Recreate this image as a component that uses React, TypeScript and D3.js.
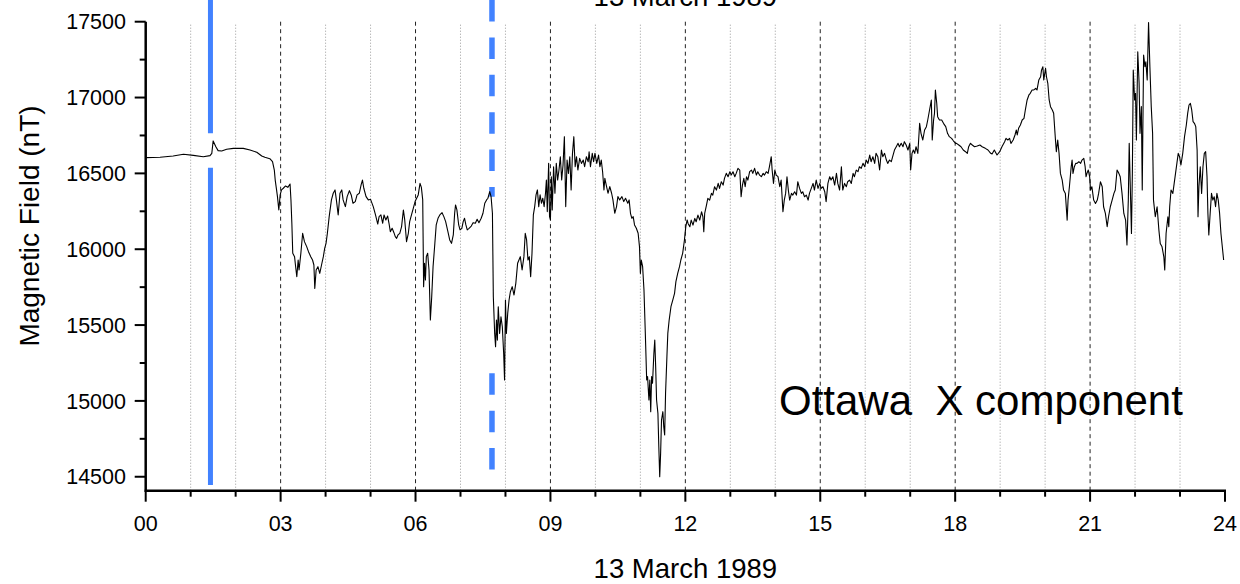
import React from "react";
import * as d3 from "d3";

// ---- data (hour of day, nT) ----
const SERIES_00_06: [number, number][] = [
  [0.0, 16604], [0.32, 16606], [0.61, 16615], [0.84, 16626], [1.06, 16619], [1.28, 16610], [1.43, 16617],
  [1.47, 16632], [1.5, 16714], [1.56, 16676], [1.61, 16650], [1.69, 16648], [1.8, 16659], [1.95, 16665],
  [2.17, 16665], [2.32, 16654], [2.47, 16639], [2.58, 16615], [2.65, 16606], [2.76, 16597], [2.82, 16577],
  [2.86, 16522], [2.88, 16456], [2.91, 16391], [2.93, 16347], [2.96, 16259], [2.99, 16358], [3.02, 16391],
  [3.06, 16402], [3.11, 16417], [3.16, 16408], [3.21, 16430], [3.23, 16325], [3.25, 16171], [3.27, 15973],
  [3.31, 15951], [3.33, 15896], [3.36, 15819], [3.39, 15929], [3.41, 15863], [3.45, 15973], [3.49, 16105],
  [3.53, 16050], [3.58, 16017], [3.62, 15984], [3.67, 15951], [3.71, 15929], [3.74, 15896], [3.76, 15742],
  [3.79, 15863], [3.83, 15885], [3.87, 15841], [3.91, 15896], [3.95, 15951], [3.98, 16006], [4.01, 16039],
  [4.04, 16105], [4.08, 16215], [4.13, 16325], [4.17, 16369], [4.21, 16391], [4.24, 16325], [4.28, 16226],
  [4.32, 16369], [4.36, 16391], [4.39, 16325], [4.44, 16281], [4.48, 16347], [4.53, 16386], [4.57, 16358],
  [4.61, 16303], [4.66, 16314], [4.7, 16358], [4.75, 16369], [4.79, 16424], [4.82, 16456], [4.85, 16402],
  [4.9, 16347], [4.95, 16325], [5.0, 16329], [5.06, 16281], [5.11, 16226], [5.16, 16166], [5.19, 16215],
  [5.23, 16226], [5.27, 16171], [5.3, 16226], [5.34, 16193], [5.38, 16219], [5.41, 16171], [5.44, 16116],
  [5.48, 16138], [5.52, 16109], [5.55, 16083], [5.58, 16072], [5.61, 16094], [5.65, 16105], [5.69, 16149],
  [5.73, 16259], [5.76, 16193], [5.8, 16050], [5.84, 16105], [5.87, 16182], [5.91, 16226], [5.95, 16270],
  [5.99, 16314],
];

const SERIES_06_12: [number, number][] = [
  [6.06, 16358], [6.1, 16434], [6.13, 16408], [6.16, 16325], [6.18, 15753], [6.2, 15907], [6.22, 15797],
  [6.24, 15951], [6.27, 15973], [6.3, 15863], [6.33, 15533], [6.36, 15687], [6.39, 15885], [6.43, 16039],
  [6.46, 16160], [6.5, 16204], [6.54, 16226], [6.59, 16241], [6.63, 16215], [6.67, 16182], [6.72, 16116],
  [6.76, 16061], [6.8, 16039], [6.84, 16094], [6.87, 16237], [6.89, 16292], [6.92, 16259], [6.96, 16160],
  [6.99, 16127], [7.03, 16138], [7.06, 16182], [7.09, 16204], [7.12, 16160], [7.15, 16127], [7.19, 16138],
  [7.24, 16153], [7.28, 16175], [7.33, 16171], [7.37, 16197], [7.41, 16175], [7.46, 16204], [7.5, 16237],
  [7.54, 16303], [7.58, 16325], [7.61, 16336], [7.65, 16380], [7.68, 16347], [7.71, 16237], [7.73, 15687],
  [7.76, 15445], [7.78, 15357], [7.8, 15533], [7.82, 15401], [7.84, 15621], [7.87, 15445], [7.9, 15555],
  [7.93, 15489], [7.96, 15313], [7.98, 15138], [8.0, 15665], [8.02, 15445], [8.05, 15577], [8.08, 15665],
  [8.11, 15720], [8.15, 15753], [8.19, 15698], [8.23, 15775], [8.27, 15907], [8.3, 15929], [8.33, 15951],
  [8.37, 15863], [8.41, 15951], [8.44, 16105], [8.47, 16061], [8.5, 15929], [8.53, 15951], [8.56, 15819],
  [8.59, 15973], [8.62, 16226], [8.65, 16281], [8.68, 16358], [8.71, 16391], [8.74, 16281], [8.77, 16358],
  [8.8, 16303], [8.83, 16336], [8.86, 16281], [8.89, 16369], [8.91, 16456], [8.93, 16248], [8.96, 16566],
  [8.98, 16215], [9.0, 16193], [9.02, 16478], [9.04, 16259], [9.07, 16544], [9.1, 16369], [9.13, 16566],
  [9.16, 16456], [9.19, 16522], [9.22, 16610], [9.25, 16456], [9.28, 16555], [9.31, 16742], [9.34, 16281],
  [9.37, 16588], [9.4, 16500], [9.43, 16610], [9.46, 16391], [9.49, 16632], [9.52, 16742], [9.55, 16544],
  [9.58, 16610], [9.61, 16522], [9.65, 16599], [9.69, 16566], [9.73, 16588], [9.76, 16544], [9.8, 16610],
  [9.84, 16577], [9.86, 16643], [9.89, 16544], [9.93, 16632], [9.96, 16577], [9.99, 16632], [10.03, 16566],
  [10.07, 16621], [10.1, 16544], [10.13, 16588], [10.16, 16511], [10.19, 16391], [10.21, 16467], [10.24, 16424],
  [10.28, 16369], [10.32, 16413], [10.36, 16369], [10.39, 16325], [10.43, 16237], [10.47, 16281], [10.5, 16347],
  [10.54, 16325], [10.59, 16347], [10.63, 16314], [10.67, 16336], [10.72, 16303], [10.75, 16325], [10.78, 16237],
  [10.81, 16204], [10.84, 16215], [10.87, 16160], [10.91, 16138], [10.95, 16105], [10.98, 16017], [11.0, 15841],
  [11.02, 15929], [11.05, 15885], [11.08, 15731], [11.11, 15445], [11.14, 15138], [11.16, 15160], [11.19, 15006],
  [11.21, 15138], [11.23, 14929], [11.25, 15160], [11.27, 15116], [11.3, 15313], [11.32, 15401], [11.34, 15226],
  [11.36, 15006], [11.39, 14918], [11.41, 14698], [11.43, 14500], [11.45, 14654], [11.47, 14874], [11.5, 14929],
  [11.52, 14830], [11.54, 14775], [11.56, 15050], [11.59, 15292], [11.61, 15445], [11.64, 15533], [11.68, 15621],
  [11.72, 15665], [11.76, 15709], [11.79, 15786], [11.83, 15841], [11.87, 15885], [11.9, 15929], [11.94, 15973],
  [11.98, 16061], [12.01, 16149], [12.04, 16193],
];

const SERIES_12_18: [number, number][] = [
  [12.06, 16170], [12.1, 16148], [12.13, 16192], [12.17, 16159], [12.21, 16203], [12.24, 16181], [12.28, 16225],
  [12.32, 16192], [12.36, 16247], [12.39, 16214], [12.41, 16115], [12.43, 16236], [12.47, 16291], [12.5, 16335],
  [12.54, 16324], [12.58, 16368], [12.61, 16357], [12.65, 16412], [12.69, 16390], [12.73, 16434], [12.76, 16401],
  [12.8, 16445], [12.84, 16423], [12.87, 16467], [12.91, 16500], [12.95, 16478], [12.99, 16511], [13.02, 16489],
  [13.06, 16511], [13.1, 16478], [13.13, 16500], [13.17, 16533], [13.21, 16522], [13.24, 16346], [13.27, 16423],
  [13.3, 16467], [13.33, 16412], [13.36, 16478], [13.39, 16456], [13.43, 16511], [13.47, 16522], [13.5, 16500],
  [13.54, 16533], [13.58, 16489], [13.61, 16511], [13.65, 16489], [13.69, 16478], [13.73, 16500], [13.76, 16489],
  [13.8, 16511], [13.84, 16500], [13.87, 16544], [13.91, 16610], [13.93, 16522], [13.96, 16434], [13.99, 16522],
  [14.02, 16489], [14.06, 16478], [14.1, 16412], [14.13, 16456], [14.17, 16247], [14.2, 16324], [14.23, 16368],
  [14.26, 16478], [14.29, 16390], [14.32, 16324], [14.36, 16368], [14.39, 16357], [14.43, 16379], [14.47, 16357],
  [14.5, 16445], [14.54, 16401], [14.58, 16368], [14.61, 16379], [14.65, 16346], [14.69, 16357], [14.73, 16324],
  [14.76, 16368], [14.8, 16401], [14.84, 16434], [14.87, 16390], [14.91, 16456], [14.95, 16401], [14.99, 16434],
  [15.02, 16401], [15.06, 16412], [15.1, 16379], [15.13, 16313], [15.17, 16434], [15.21, 16478], [15.24, 16456],
  [15.28, 16478], [15.32, 16423], [15.36, 16500], [15.39, 16434], [15.43, 16390], [15.47, 16544], [15.5, 16390],
  [15.54, 16434], [15.58, 16412], [15.61, 16445], [15.65, 16456], [15.69, 16434], [15.73, 16500], [15.76, 16478],
  [15.8, 16522], [15.84, 16511], [15.87, 16544], [15.91, 16533], [15.95, 16566], [15.99, 16544], [16.02, 16588],
  [16.06, 16566], [16.1, 16621], [16.13, 16577], [16.17, 16610], [16.21, 16566], [16.24, 16632], [16.28, 16610],
  [16.32, 16522], [16.36, 16654], [16.39, 16610], [16.43, 16632], [16.47, 16588], [16.5, 16566], [16.54, 16588],
  [16.58, 16577], [16.61, 16610], [16.65, 16654], [16.69, 16676], [16.73, 16698], [16.76, 16676], [16.8, 16698],
  [16.84, 16676], [16.87, 16709], [16.91, 16687], [16.95, 16654], [16.99, 16698], [17.01, 16522], [17.04, 16632],
  [17.07, 16654], [17.1, 16632], [17.13, 16676], [17.17, 16632], [17.21, 16830], [17.24, 16764], [17.28, 16720],
  [17.32, 16786], [17.36, 16808], [17.39, 16852], [17.43, 16918], [17.47, 16983], [17.49, 16720], [17.52, 16852],
  [17.54, 16896], [17.56, 17049], [17.59, 16962], [17.61, 16874], [17.65, 16852], [17.7, 16852], [17.74, 16830],
  [17.79, 16808], [17.83, 16764], [17.87, 16742], [17.92, 16731], [17.96, 16715], [18.01, 16698],
];

const SERIES_18_24: [number, number][] = [
  [18.03, 16698], [18.08, 16687], [18.13, 16676], [18.18, 16654], [18.23, 16643], [18.27, 16632], [18.3, 16676],
  [18.34, 16698], [18.38, 16687], [18.43, 16676], [18.49, 16680], [18.55, 16687], [18.6, 16676], [18.67, 16665],
  [18.73, 16654], [18.79, 16632], [18.82, 16628], [18.87, 16654], [18.93, 16621], [18.99, 16643], [19.04, 16676],
  [19.1, 16709], [19.13, 16731], [19.17, 16720], [19.21, 16731], [19.24, 16698], [19.29, 16720], [19.33, 16753],
  [19.36, 16786], [19.38, 16753], [19.41, 16797], [19.45, 16819], [19.49, 16852], [19.53, 16863], [19.56, 16918],
  [19.6, 16984], [19.64, 17017], [19.67, 17028], [19.71, 17050], [19.75, 17050], [19.79, 17061], [19.82, 17050],
  [19.86, 17116], [19.9, 17137], [19.92, 17181], [19.95, 17203], [19.97, 17116], [20.01, 17192], [20.03, 17137],
  [20.06, 17094], [20.09, 16984], [20.12, 16940], [20.16, 16918], [20.19, 16896], [20.23, 16720], [20.25, 16643],
  [20.28, 16720], [20.31, 16632], [20.34, 16500], [20.38, 16456], [20.41, 16390], [20.45, 16368], [20.49, 16192],
  [20.51, 16324], [20.54, 16412], [20.58, 16544], [20.6, 16588], [20.62, 16500], [20.65, 16544], [20.68, 16566],
  [20.71, 16566], [20.75, 16577], [20.79, 16566], [20.82, 16588], [20.86, 16599], [20.89, 16544], [20.91, 16478],
  [20.93, 16500], [20.96, 16522], [20.99, 16478], [21.01, 16390], [21.04, 16412], [21.08, 16324], [21.12, 16302],
  [21.16, 16324], [21.19, 16368], [21.23, 16445], [21.27, 16412], [21.3, 16280], [21.34, 16236], [21.38, 16148],
  [21.41, 16214], [21.45, 16280], [21.49, 16324], [21.53, 16368], [21.56, 16390], [21.6, 16522], [21.64, 16500],
  [21.67, 16478], [21.71, 16368], [21.75, 16236], [21.79, 16192], [21.82, 16028], [21.85, 16324], [21.87, 16698],
  [21.89, 16456], [21.92, 16104], [21.94, 16500], [21.96, 17181], [21.99, 16984], [22.01, 17028], [22.03, 16720],
  [22.06, 17302], [22.09, 17094], [22.11, 16764], [22.14, 16940], [22.16, 16390], [22.19, 17280], [22.22, 17203],
  [22.24, 17236], [22.27, 17116], [22.3, 17494], [22.33, 17203], [22.36, 16940], [22.39, 16764], [22.41, 16324],
  [22.45, 16214], [22.49, 16280], [22.53, 16126], [22.56, 16038], [22.6, 16016], [22.64, 15950], [22.66, 15863],
  [22.69, 16104], [22.73, 16214], [22.75, 16148], [22.77, 16280], [22.8, 16390], [22.84, 16368], [22.87, 16434],
  [22.9, 16500], [22.93, 16566], [22.96, 16632], [22.99, 16610], [23.02, 16555], [23.06, 16632], [23.1, 16742],
  [23.14, 16819], [23.17, 16896], [23.2, 16951], [23.23, 16962], [23.26, 16918], [23.29, 16841], [23.32, 16830],
  [23.35, 16808], [23.38, 16654], [23.4, 16214], [23.42, 16412], [23.45, 16544], [23.48, 16368], [23.51, 16544],
  [23.54, 16632], [23.57, 16643], [23.6, 16478], [23.62, 16236], [23.64, 16094], [23.67, 16236], [23.7, 16368],
  [23.73, 16324], [23.76, 16346], [23.79, 16280], [23.82, 16368], [23.85, 16324], [23.88, 16236], [23.91, 16104],
  [23.94, 16016], [23.97, 15929],
];

const X_MAJOR_TICKS = [0, 3, 6, 9, 12, 15, 18, 21, 24];
const X_TICK_LABELS = ["00", "03", "06", "09", "12", "15", "18", "21", "24"];
const X_MINOR_TICKS = [1, 2, 4, 5, 7, 8, 10, 11, 13, 14, 16, 17, 19, 20, 22, 23];
const DASHED_GRID_HOURS = [3, 6, 9, 12, 15, 18, 21];
const DOTTED_GRID_HOURS = X_MINOR_TICKS;
const Y_MAJOR_TICKS = [14500, 15000, 15500, 16000, 16500, 17000, 17500];
const Y_MINOR_TICKS = [14750, 15250, 15750, 16250, 16750, 17250];

// event markers: hour and visible value spans
const SOLID_MARKER_HOUR = 1.44;
const SOLID_MARKER_SPANS: [number, number][] = [[17650, 16764], [16537, 14445]];
const DASHED_MARKER_HOUR = 7.7;
const DASHED_MARKER_SPANS: [number, number][] = [[17643, 16346], [15182, 14544]];

const TITLE = "13 March 1989";
const X_LABEL = "13 March 1989";
const Y_LABEL = "Magnetic Field (nT)";
const ANNOTATION = "Ottawa  X component";

export default function App() {
  const W = 1240;
  const H = 584;
  const left = 145.7;
  const right = 1225;
  const top = 21.7;
  const bottom = 490.7;
  const font = "Arial, 'Liberation Sans', Helvetica, sans-serif";
  const blue = "#4282ff";

  const x = d3.scaleLinear().domain([0, 24]).range([left, right]);
  const y = d3.scaleLinear().domain([14408, 17500]).range([bottom, top]);

  const data = [...SERIES_00_06, ...SERIES_06_12, ...SERIES_12_18, ...SERIES_18_24];
  const line = d3
    .line<[number, number]>()
    .x((d) => x(d[0]))
    .y((d) => y(d[1]));

  return (
    <div style={{ position: "absolute", left: 0, top: 0, width: W, height: H, background: "#fff" }}>
      <svg width={W} height={H} style={{ display: "block" }}>
        <rect x={0} y={0} width={W} height={H} fill="#fff" />
        {/* grid */}
        {DOTTED_GRID_HOURS.map((h) => (
          <line key={"dg" + h} x1={x(h)} x2={x(h)} y1={top + 3} y2={bottom} stroke="#9a9a9a" strokeWidth={1} strokeDasharray="1,2" />
        ))}
        {DASHED_GRID_HOURS.map((h) => (
          <line key={"dd" + h} x1={x(h)} x2={x(h)} y1={top} y2={bottom} stroke="#222" strokeWidth={1} strokeDasharray="4,3.5" />
        ))}

        {/* markers */}
        {SOLID_MARKER_SPANS.map((s, i) => (
          <line key={"sm" + i} x1={x(SOLID_MARKER_HOUR)} x2={x(SOLID_MARKER_HOUR)} y1={y(s[0])} y2={y(s[1])} stroke={blue} strokeWidth={5} />
        ))}
        {DASHED_MARKER_SPANS.map((s, i) => (
          <line key={"dm" + i} x1={x(DASHED_MARKER_HOUR)} x2={x(DASHED_MARKER_HOUR)} y1={y(s[0])} y2={y(s[1])} stroke={blue} strokeWidth={5.5} strokeDasharray="21.5,15.9" />
        ))}

        {/* data */}
        <path d={line(data) || ""} fill="none" stroke="#000" strokeWidth={1.1} strokeLinejoin="round" />

        {/* axes */}
        <line x1={left} x2={left} y1={top} y2={bottom + 1} stroke="#000" strokeWidth={2.5} />
        <line x1={left - 1} x2={right + 1} y1={bottom} y2={bottom} stroke="#000" strokeWidth={2.5} />
        {Y_MAJOR_TICKS.map((v) => (
          <g key={"ym" + v}>
            <line x1={left - 11} x2={left} y1={y(v)} y2={y(v)} stroke="#000" strokeWidth={2} />
            <text x={126} y={y(v)} dy="0.36em" textAnchor="end" fontFamily={font} fontSize={21.5} fill="#000">
              {v}
            </text>
          </g>
        ))}
        {Y_MINOR_TICKS.map((v) => (
          <line key={"yn" + v} x1={left - 6} x2={left} y1={y(v)} y2={y(v)} stroke="#000" strokeWidth={2} />
        ))}
        {X_MAJOR_TICKS.map((h, i) => (
          <g key={"xm" + h}>
            <line x1={x(h)} x2={x(h)} y1={bottom} y2={bottom + 11} stroke="#000" strokeWidth={2} />
            <text x={x(h)} y={531} textAnchor="middle" fontFamily={font} fontSize={21.5} fill="#000">
              {X_TICK_LABELS[i]}
            </text>
          </g>
        ))}
        {X_MINOR_TICKS.map((h) => (
          <line key={"xn" + h} x1={x(h)} x2={x(h)} y1={bottom} y2={bottom + 6} stroke="#000" strokeWidth={2} />
        ))}

        {/* labels */}
        <text x={(left + right) / 2} y={6} textAnchor="middle" fontFamily={font} fontSize={27.5} fill="#000">
          {TITLE}
        </text>
        <text x={(left + right) / 2} y={578} textAnchor="middle" fontFamily={font} fontSize={27.5} fill="#000">
          {X_LABEL}
        </text>
        <text
          transform={`translate(39,226) rotate(-90)`}
          textAnchor="middle"
          fontFamily={font}
          fontSize={28}
          fill="#000"
        >
          {Y_LABEL}
        </text>
        <text x={779} y={415} fontFamily={font} fontSize={42} fill="#000" style={{ whiteSpace: "pre" }}>
          {ANNOTATION}
        </text>
      </svg>
    </div>
  );
}
